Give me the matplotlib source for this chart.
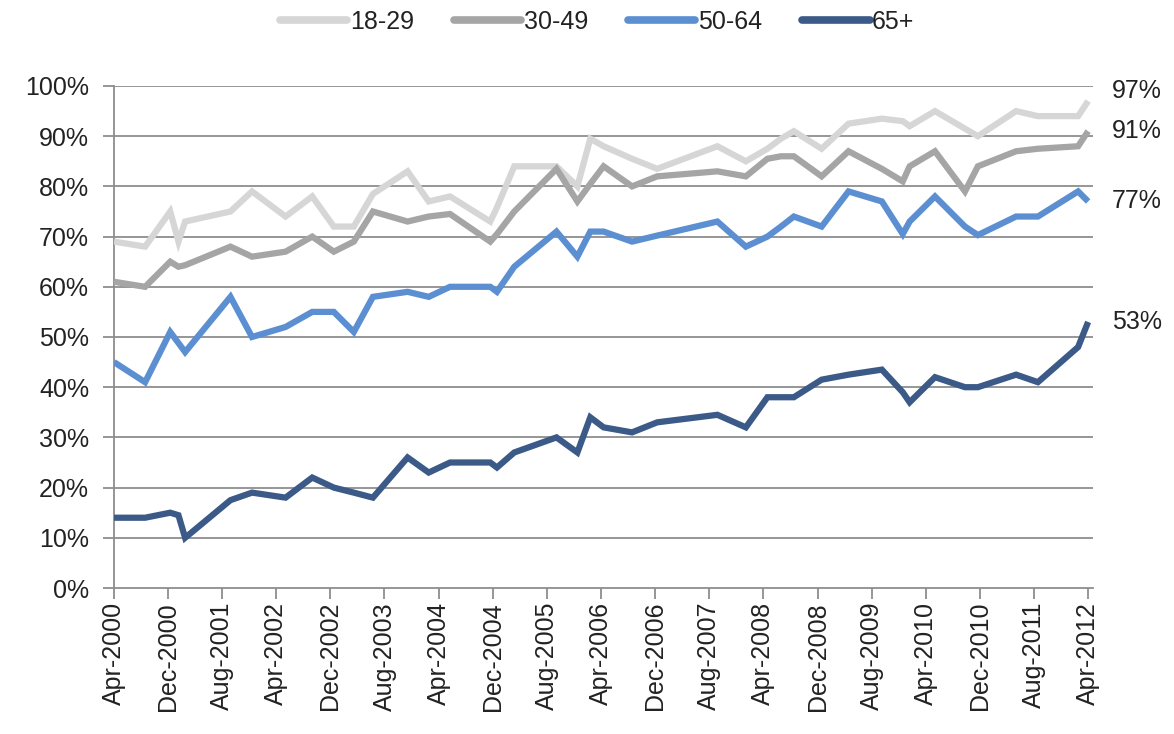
import matplotlib
matplotlib.use("Agg")
import matplotlib.pyplot as plt
import matplotlib.dates as mdates
from matplotlib.ticker import PercentFormatter, FixedLocator
import pandas as pd

plt.rcParams['font.family'] = ['Liberation Sans', 'DejaVu Sans']

survey_dates = [
    "2000-04-01", "2000-08-19", "2000-12-10", "2001-01-16", "2001-02-15",
    "2001-09-07", "2001-12-13", "2002-05-13", "2002-09-10", "2002-12-16",
    "2003-03-16", "2003-06-10", "2003-11-13", "2004-02-16", "2004-05-22",
    "2004-11-19", "2004-12-19", "2005-03-07", "2005-09-13", "2005-12-16",
    "2006-02-12", "2006-04-13", "2006-08-19", "2006-12-10", "2007-09-07",
    "2008-01-13", "2008-04-19", "2008-06-19", "2008-08-16", "2008-12-19",
    "2009-04-19", "2009-09-16", "2009-12-19", "2010-01-19", "2010-05-13",
    "2010-09-25", "2010-11-22", "2011-05-13", "2011-08-19", "2012-02-16",
    "2012-04-01",
]

age_18_29 = [69, 68, 75, 69, 73, 75, 79, 74, 78, 72,
             72, 78.5, 83, 77, 78, 73, 75.8, 84, 84, 80,
             89.5, 88, 85.5, 83.5, 88, 85, 87.5, 89.5, 91, 87.5,
             92.5, 93.5, 93, 92, 95, 91.5, 90, 95, 94, 94,
             97]
age_30_49 = [61, 60, 65, 64, 64.3, 68, 66, 67, 70, 67,
             69, 75, 73, 74, 74.5, 69, 70.5, 75, 83.5, 77,
             80.5, 84, 80, 82, 83, 82, 85.5, 86, 86, 82,
             87, 83.5, 81, 84, 87, 79, 84, 87, 87.5, 88,
             91]
age_50_64 = [45, 41, 51, 48.8, 47, 58, 50, 52, 55, 55,
             51, 58, 59, 58, 60, 60, 59, 64, 71, 66,
             71, 71, 69, 70.2, 73, 68, 70, 72, 74, 72,
             79, 77, 70.5, 73, 78, 72, 70.3, 74, 74, 79,
             77]
age_65_plus = [14, 14, 15, 14.5, 10, 17.5, 19, 18, 22, 20,
               19, 18, 26, 23, 25, 25, 24, 27, 30, 27,
               34, 32, 31, 33, 34.5, 32, 38, 38, 38, 41.5,
               42.5, 43.5, 39, 37, 42, 40, 40, 42.5, 41, 48,
               53]

series_names = ["18-29", "30-49", "50-64", "65+"]
series_values = [age_18_29, age_30_49, age_50_64, age_65_plus]
series_colors = ["#d6d6d6", "#a5a5a5", "#5b8fd2", "#3b5a88"]
end_labels = ["97%", "91%", "77%", "53%"]
end_label_y = [99, 91, 77, 53]

y_ticks = [0, 10, 20, 30, 40, 50, 60, 70, 80, 90, 100]

dates = pd.to_datetime(survey_dates)
tick_dates = pd.date_range(start="2000-04-01", end="2012-04-01", freq="8MS")

W, H = 1174, 734
fig = plt.figure(figsize=(W / 100, H / 100), dpi=100)
left, right, top, bottom = 114, 1093, 86, 588
ax = fig.add_axes([left / W, 1 - bottom / H, (right - left) / W, (bottom - top) / H])

grid_color = "#8e8e8e"
text_color = "#222222"
fs = 18
for v in y_ticks[1:]:
    ax.axhline(v, color=grid_color, lw=1.3, zorder=1)

handles = []
for name, vals, col in zip(series_names, series_values, series_colors):
    h, = ax.plot(dates, vals, color=col, lw=4.5, solid_joinstyle="miter",
                 solid_capstyle="butt", zorder=3, label=name)
    handles.append(h)

for vals, lab, ly in zip(series_values, end_labels, end_label_y):
    ax.annotate(lab, xy=(dates[-1], ly), xytext=(24, 0), textcoords="offset pixels",
                ha="left", va="center", fontsize=fs, color=text_color,
                annotation_clip=False)

ax.set_ylim(0, 100)
ax.set_xlim(pd.Timestamp("2000-04-01"), pd.Timestamp("2012-04-23"))
ax.yaxis.set_major_locator(FixedLocator(y_ticks))
ax.yaxis.set_major_formatter(PercentFormatter(decimals=0))
ax.set_xticks(tick_dates)
ax.xaxis.set_major_formatter(mdates.DateFormatter("%b-%Y"))
plt.setp(ax.get_xticklabels(), rotation=90, ha="center", va="top")

for s in ["top", "right"]:
    ax.spines[s].set_visible(False)
for s in ["left", "bottom"]:
    ax.spines[s].set_color(grid_color)
    ax.spines[s].set_linewidth(1.3)
ax.tick_params(axis="both", direction="out", length=8, width=1.3, color=grid_color,
               labelsize=fs, labelcolor=text_color, pad=2)
ax.tick_params(axis="y", pad=10)

leg = fig.legend(handles=handles, labels=series_names, loc="center",
                 bbox_to_anchor=(597 / W, 1 - 22 / H), ncol=4, frameon=False,
                 fontsize=fs, handlelength=2.7, handletextpad=0.1,
                 columnspacing=1.6)
for t in leg.get_texts():
    t.set_color(text_color)
for lh in leg.get_lines():
    lh.set_linewidth(5.5)
    lh.set_solid_capstyle("round")

fig.savefig("out.png", dpi=100)
